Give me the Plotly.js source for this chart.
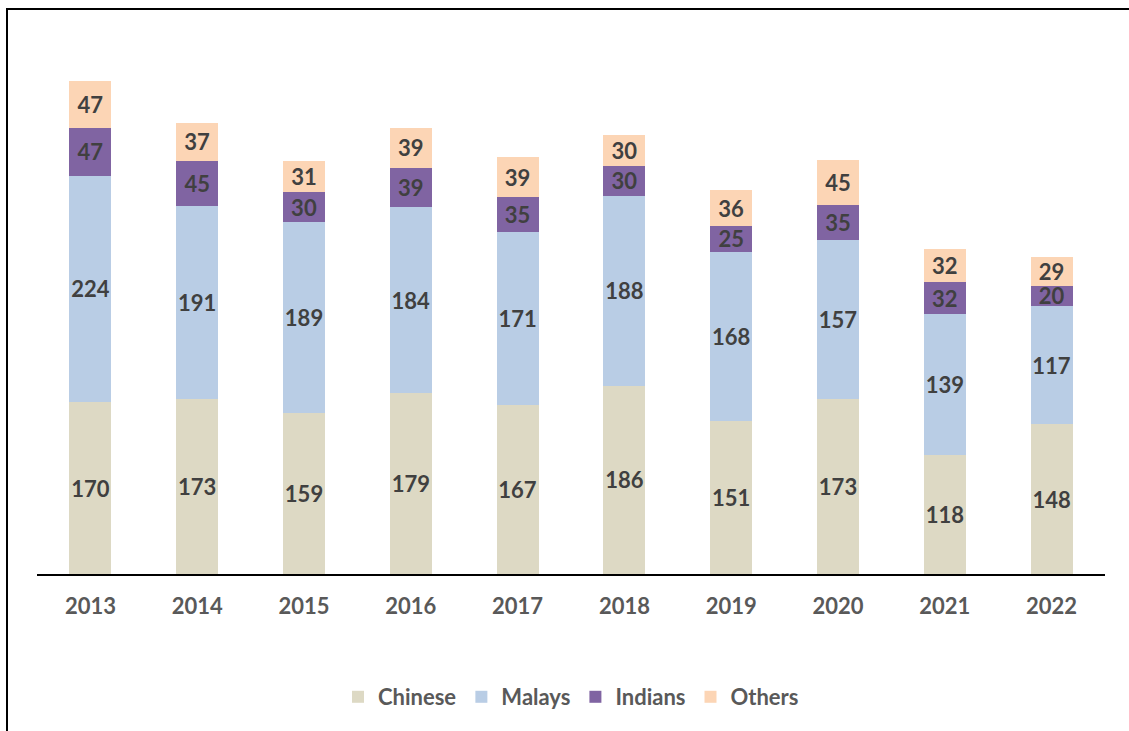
<!DOCTYPE html>
<html>
<head>
<meta charset="utf-8">
<script src="https://cdn.plot.ly/plotly-3.0.1.min.js"></script>
<style>
  body { margin: 0; background: #fff; }
  #grafica { width: 1129px; height: 731px; }
  #marco { position: absolute; left: 6px; top: 8px; width: 1140px; height: 740px;
           border-left: 2px solid #000; border-top: 2px solid #000; pointer-events: none; }
</style>
</head>
<body>
<div id="grafica"></div>
<div id="marco"></div>
<script>
// years on the x axis
const anios = ['2013', '2014', '2015', '2016', '2017', '2018', '2019', '2020', '2021', '2022'];

// values per group
const chinos = [170, 173, 159, 179, 167, 186, 151, 173, 118, 148];
const malayos = [224, 191, 189, 184, 171, 188, 168, 157, 139, 117];
const indios = [47, 45, 30, 39, 35, 30, 25, 35, 32, 20];
const otros = [47, 37, 31, 39, 39, 30, 36, 45, 32, 29];

const nombres = ['Chinese', 'Malays', 'Indians', 'Others'];
const colores = ['#DDD9C4', '#B9CDE5', '#8064A2', '#FCD5B5'];
const fuente = 'Lato, "Open Sans", sans-serif';

function serie(valores, i) {
    return {
        x: anios,
        y: valores,
        name: nombres[i],
        type: 'bar',
        marker: { color: colores[i] },
        text: valores.map(String),
        texttemplate: '%{text}',
        textposition: 'inside',
        insidetextanchor: 'middle',
        textangle: 0,
        constraintext: 'none',
        textfont: { family: fuente, size: 22, color: '#404040', weight: 'bold' },
        hoverinfo: 'skip'
    };
}

const trazas = [chinos, malayos, indios, otros].map(serie);

const layout = {
    barmode: 'stack',
    bargap: 0.607,
    width: 1129,
    height: 731,
    margin: { l: 37, r: 24, t: 20, b: 157 },
    paper_bgcolor: '#fff',
    plot_bgcolor: '#fff',
    font: { family: fuente, size: 22, color: '#595959', weight: 'bold' },
    showlegend: true,
    legend: {
        orientation: 'h',
        x: 0.5, xanchor: 'center',
        y: -0.222, yanchor: 'middle',
        itemwidth: 30,
        traceorder: 'normal',
        font: { family: fuente, size: 22, color: '#595959', weight: 'bold' }
    },
    xaxis: {
        type: 'category',
        showline: true,
        linecolor: '#000',
        linewidth: 2,
        ticks: '',
        ticklabelstandoff: 12,
        showgrid: false,
        zeroline: false,
        fixedrange: true
    },
    yaxis: {
        range: [0, 548],
        visible: false,
        showgrid: false,
        zeroline: false
    }
};

Plotly.newPlot('grafica', trazas, layout, { displayModeBar: false, staticPlot: true });
</script>
</body>
</html>
